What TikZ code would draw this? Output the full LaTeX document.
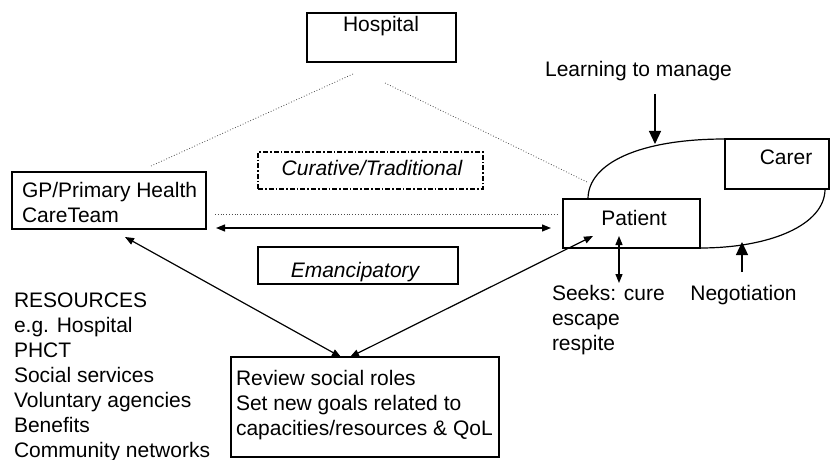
\documentclass[tikz,border=0pt]{standalone}
\usepackage{fontspec}
\setmainfont{Liberation Sans}
\usetikzlibrary{arrows.meta}
\begin{document}
\begin{tikzpicture}[x=0.5pt,y=-0.5pt,
  every node/.style={font=\fontsize{10.5}{12.5}\selectfont},
  box/.style={draw, line width=0.6pt, inner sep=0pt, outer sep=0pt},
  lbl/.style={inner sep=0pt, outer sep=0pt},
  dotln/.style={densely dotted, line width=0.4pt, black!70},
  ln/.style={line width=0.6pt},
  sarr/.style={line width=0.6pt, {Triangle[length=4.5pt,width=3.5pt]}-{Triangle[length=4.5pt,width=3.5pt]}},
  barr/.style={line width=0.6pt, -{Triangle[length=6.5pt,width=6pt]}}]
\useasboundingbox (0,0) rectangle (830,460);

% boxes
\node[box, minimum width=74.5pt, minimum height=24.5pt] (hosp) at (381.5,37.5) {};
\node[lbl, anchor=base] (hospt) at (381,32) {Hospital};

\node[box, minimum width=97pt, minimum height=28.5pt] (gp) at (109,200.5) {};
\node[lbl, anchor=base west, align=left] (gpt) at (22,222.5) {GP/Primary Health\\CareTeam};

\node[box, dash pattern=on 2.5pt off 1pt on 0.8pt off 1pt, minimum width=112.5pt, minimum height=18.5pt] (cur) at (370.5,170.5) {};
\node[lbl, anchor=base] (curt) at (372,176) {\itshape Curative/Traditional};

\node[box, minimum width=100pt, minimum height=18.5pt] (eman) at (358,265.5) {};
\node[lbl, anchor=base] (emant) at (355,277) {\itshape Emancipatory};

\node[box, minimum width=68.5pt, minimum height=24.5pt] (pat) at (631.5,223.5) {};
\node[lbl, anchor=base] (patt) at (634,225) {Patient};

\node[box, minimum width=52pt, minimum height=25pt] (carer) at (777,164) {};
\node[lbl, anchor=base] (carert) at (786,164) {Carer};

\node[box, minimum width=134pt, minimum height=50pt] (review) at (365,407) {};
\node[lbl, anchor=base west, align=left] (reviewt) at (236,435.5) {Review social roles\\Set new goals related to\\capacities/resources \& QoL};

% free texts
\node[lbl, anchor=base west, align=left] (res) at (14,457.5) {RESOURCES\\e.g. Hospital\\PHCT\\Social services\\Voluntary agencies\\Benefits\\Community networks};
\node[lbl, anchor=base west, align=left] (seeks) at (552,350.5) {Seeks: cure\\escape\\respite};
\node[lbl, anchor=base] (learn) at (638.5,77) {Learning to manage};
\node[lbl, anchor=base] (nego) at (743.5,300) {Negotiation};

% coordinates
\coordinate (hl1) at (353,74);
\coordinate (hl2) at (151,166);
\coordinate (hr1) at (385,83);
\coordinate (hr2) at (587,182);
\coordinate (hz1) at (215,214);
\coordinate (hz2) at (558,214);
\coordinate (da1) at (216,228);
\coordinate (da2) at (551,228);
\coordinate (gpa) at (125,237);
\coordinate (ra1) at ([xshift=-12pt]review.north);
\coordinate (ra2) at ([xshift=-7.5pt]review.north);
\coordinate (pa) at (593,236);
\coordinate (sk1) at (619,236);
\coordinate (sk2) at (619,283);
\coordinate (ng1) at (742,272);
\coordinate (ng2) at (742,242);
\coordinate (lm1) at (655,94);
\coordinate (lm2) at (655,144);
\coordinate (cu1) at ([xshift=12.5pt]pat.north west);
\coordinate (cl1) at ([xshift=-2pt]carer.south east);

% dotted lines
\draw[dotln] (hl1) -- (hl2);
\draw[dotln] (hr1) -- (hr2);
\draw[dotln] (hz1) -- (hz2);

% curves
\draw[ln] (cu1) .. controls (588,163) and (640,139) .. (carer.north west);
\draw[ln] (cl1) .. controls (825,225) and (770,248) .. (pat.south east);

% arrows
\draw[sarr] (da1) -- (da2);
\draw[sarr] (gpa) -- (ra1);
\draw[sarr] (ra2) -- (pa);
\draw[sarr] (sk1) -- (sk2);
\draw[barr] (ng1) -- (ng2);
\draw[barr] (lm1) -- (lm2);
\end{tikzpicture}
\end{document}
